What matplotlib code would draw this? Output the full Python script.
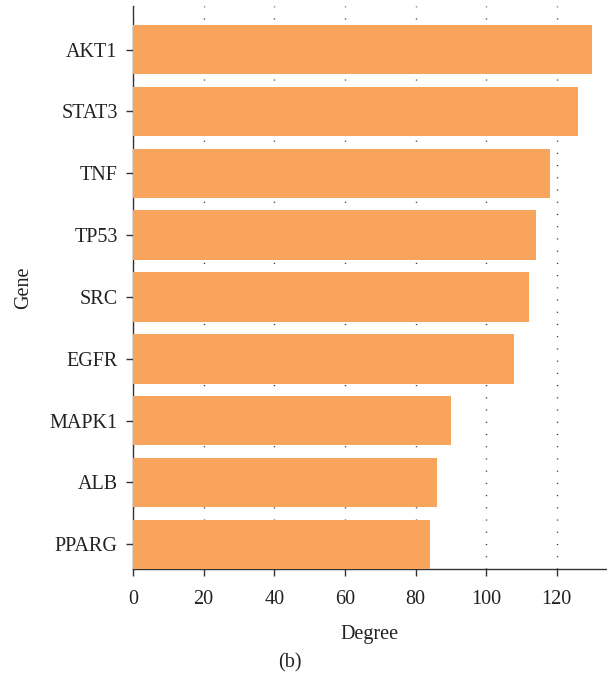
import matplotlib
matplotlib.use('Agg')
import matplotlib.pyplot as plt

genes = ['AKT1', 'STAT3', 'TNF', 'TP53', 'SRC', 'EGFR', 'MAPK1', 'ALB', 'PPARG']
degree = [130, 126, 118, 114, 112, 108, 90, 86, 84]
xticks = [0, 20, 40, 60, 80, 100, 120]

plt.rcParams['font.family'] = ['Liberation Serif', 'DejaVu Serif']

fig = plt.figure(figsize=(6.07, 6.82), dpi=100, facecolor='white')
ax = fig.add_axes([0.219, 0.1657, 0.781, 0.825])

# top gene at the top
ypos = list(range(len(genes)))[::-1]
ax.barh(ypos, degree, height=0.8, color='#F8A45C', zorder=3)

ax.set_yticks(ypos)
ax.set_yticklabels(genes)
ax.set_xticks(xticks)
ax.set_xlim(0, 134.2)
ax.set_ylim(-0.4, 8.7)

ax.xaxis.grid(True, color='#333333', linestyle=(0, (0.8, 8)), linewidth=1.0, zorder=1)
ax.set_axisbelow(True)

for s in ['top', 'right']:
    ax.spines[s].set_visible(False)
for s in ['left', 'bottom']:
    ax.spines[s].set_color('#333333')
    ax.spines[s].set_linewidth(1.0)

ax.tick_params(axis='both', direction='out', length=5, width=1.0, color='#333333',
               labelsize=14.5, labelcolor='#222222')
ax.tick_params(axis='x', pad=10)
ax.tick_params(axis='y', pad=6)

ax.set_xlabel('Degree', fontsize=14.5, color='#222222', labelpad=12)
ax.set_ylabel('Gene', fontsize=14.5, color='#222222', labelpad=12)

fig.text(0.477, 0.028, '(b)', fontsize=14.5, color='#222222', ha='center', va='center')

fig.savefig('out.png', dpi=100)
